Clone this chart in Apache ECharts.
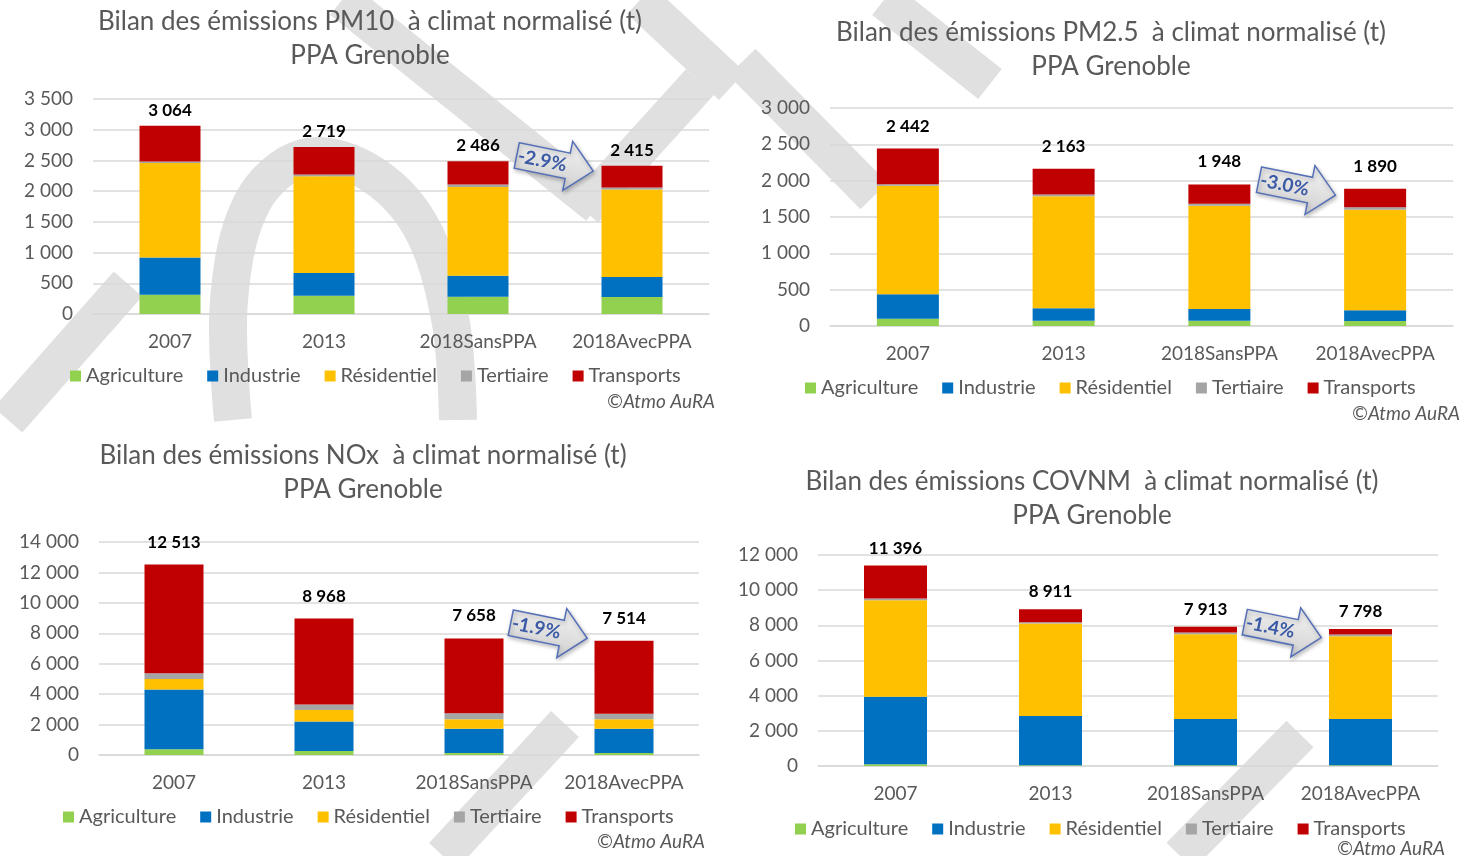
<!DOCTYPE html>
<html>
<head>
<meta charset="utf-8">
<script src="https://cdn.jsdelivr.net/npm/echarts@6/dist/echarts.min.js"></script>
<style>
  html, body { margin: 0; background: #fff; }
  #main { width: 1461px; height: 856px; }
</style>
</head>
<body>
<div id="main"></div>
<script>
const categories = ['2007', '2013', '2018SansPPA', '2018AvecPPA']
const sectors = ['Agriculture', 'Industrie', 'Résidentiel', 'Tertiaire', 'Transports']
const sectorColors = ['#92D050', '#0070C0', '#FFC000', '#A5A5A5', '#C00000']

// PM10 (t)
const pm10Agriculture = [314, 298, 282, 276]
const pm10Industrie = [606, 368, 341, 325]
const pm10Residentiel = [1539, 1576, 1446, 1424]
const pm10Tertiaire = [25, 30, 40, 33]
const pm10Transports = [580, 447, 377, 357]
const pm10Totals = [3064, 2719, 2486, 2415]

// PM2.5 (t)
const pm25Agriculture = [101, 73, 73, 69]
const pm25Industrie = [336, 170, 161, 147]
const pm25Residentiel = [1493, 1544, 1420, 1383]
const pm25Tertiaire = [22, 23, 27, 36]
const pm25Transports = [490, 353, 267, 255]
const pm25Totals = [2442, 2163, 1948, 1890]

// NOx (t)
const noxAgriculture = [373, 263, 131, 131]
const noxIndustrie = [3927, 1931, 1599, 1599]
const noxResidentiel = [703, 768, 615, 615]
const noxTertiaire = [373, 351, 395, 373]
const noxTransports = [7137, 5655, 4918, 4796]
const noxTotals = [12513, 8968, 7658, 7514]

// COVNM (t)
const covAgriculture = [95, 40, 40, 40]
const covIndustrie = [3842, 2799, 2629, 2629]
const covResidentiel = [5489, 5262, 4828, 4715]
const covTertiaire = [95, 76, 95, 94]
const covTransports = [1875, 734, 321, 320]
const covTotals = [11396, 8911, 7913, 7798]

const changes = ['-2.9%', '-3.0%', '-1.9%', '-1.4%']

const FONT = 'Lato, "Open Sans", sans-serif'
const GREY = '#595959'
const fmt = (v) => String(v).replace(/\B(?=(\d{3})+(?!\d))/g, ' ')

const panels = [
  {
    pollutant: 'PM10', series: [pm10Agriculture, pm10Industrie, pm10Residentiel, pm10Tertiaire, pm10Transports],
    totals: pm10Totals, max: 3500, interval: 500,
    grid: { left: 93, top: 99, width: 616, height: 215 }, barWidth: 61, labelDist: 7,
    titleX: 370, titleY: 22, legend: { left: 70, top: 366 }, credit: [715, 402], arrowDy: 2
  },
  {
    pollutant: 'PM2.5', series: [pm25Agriculture, pm25Industrie, pm25Residentiel, pm25Tertiaire, pm25Transports],
    totals: pm25Totals, max: 3000, interval: 500,
    grid: { left: 830, top: 108, width: 623, height: 218 }, barWidth: 62, labelDist: 14,
    titleX: 1111, titleY: 33, legend: { left: 805, top: 378 }, credit: [1460, 414], arrowDy: 3
  },
  {
    pollutant: 'NOx', series: [noxAgriculture, noxIndustrie, noxResidentiel, noxTertiaire, noxTransports],
    totals: noxTotals, max: 14000, interval: 2000,
    grid: { left: 99, top: 542, width: 600, height: 213 }, barWidth: 59, labelDist: 14,
    titleX: 363, titleY: 456, legend: { left: 63, top: 807 }, credit: [705, 842], arrowDy: -8
  },
  {
    pollutant: 'COVNM', series: [covAgriculture, covIndustrie, covResidentiel, covTertiaire, covTransports],
    totals: covTotals, max: 12000, interval: 2000,
    grid: { left: 818, top: 555, width: 620, height: 211 }, barWidth: 63, labelDist: 9,
    titleX: 1092, titleY: 482, legend: { left: 795, top: 819 }, credit: [1445, 849], arrowDy: 3
  }
]

// light grey "draft" watermark strokes behind the charts
const watermark = [
  { type: 'polyline', points: [[233, 420], [229, 300], [252, 203], [303, 158], [365, 170], [420, 225], [450, 318], [458, 420]] },
  { type: 'line', points: [[8, 420], [128, 284]] },
  { type: 'line', points: [[342, 0], [598, 206]] },
  { type: 'line', points: [[584, 210], [700, 82]] },
  { type: 'line', points: [[640, 0], [732, 86]] },
  { type: 'line', points: [[742, 62], [874, 196]] },
  { type: 'line', points: [[884, 0], [990, 84]] },
  { type: 'line', points: [[565, 724], [443, 856]] },
  { type: 'line', points: [[1300, 734], [1180, 856]] }
]

const chart = echarts.init(document.getElementById('main'))

const xAxes = panels.map((p, i) => ({
  type: 'category', gridIndex: i, data: categories,
  axisTick: { show: false },
  axisLine: { lineStyle: { color: '#d9d9d9', width: 1.5 } },
  axisLabel: { color: GREY, fontSize: 19, fontFamily: FONT, margin: 18, interval: 0 }
}))
const yAxes = panels.map((p, i) => ({
  type: 'value', gridIndex: i, min: 0, max: p.max, interval: p.interval,
  axisLine: { show: false }, axisTick: { show: false },
  splitLine: { lineStyle: { color: '#d9d9d9', width: 1.5 } },
  axisLabel: { color: GREY, fontSize: 19, fontFamily: FONT, margin: 20, formatter: fmt }
}))

const series = []
panels.forEach((p, i) => {
  sectors.forEach((name, k) => {
    const s = {
      type: 'bar', name, stack: 'pan' + i, xAxisIndex: i, yAxisIndex: i,
      data: p.series[k], barWidth: p.barWidth,
      itemStyle: { color: sectorColors[k] }
    }
    if (k === sectors.length - 1) {
      s.label = {
        show: true, position: 'top', distance: p.labelDist,
        color: '#000', fontWeight: 'bold', fontSize: 17, fontFamily: FONT,
        formatter: (d) => fmt(p.totals[d.dataIndex])
      }
    }
    series.push(s)
  })
})

const legends = panels.map((p) => ({
  left: p.legend.left, top: p.legend.top, data: sectors, padding: 0,
  icon: 'rect', itemWidth: 11, itemHeight: 11, itemGap: 24,
  textStyle: { color: GREY, fontSize: 20, fontFamily: FONT }
}))

chart.setOption({
  animation: false,
  color: sectorColors,
  grid: panels.map((p) => p.grid),
  xAxis: xAxes,
  yAxis: yAxes,
  legend: legends,
  series
})

// watermark, titles, credits and the "variation" arrows
const graphics = watermark.map((w) => ({
  type: w.type, z: -10, silent: true,
  shape: w.type === 'line'
    ? { x1: w.points[0][0], y1: w.points[0][1], x2: w.points[1][0], y2: w.points[1][1] }
    : { points: w.points, smooth: 0.35 },
  style: { stroke: '#e0e0e0', lineWidth: 38, fill: null }
}))

panels.forEach((p, i) => {
  const titleStyle = { fill: GREY, fontSize: 26, fontFamily: FONT, fontWeight: 'normal', align: 'center', verticalAlign: 'middle' }
  graphics.push({ type: 'text', x: p.titleX, y: p.titleY, style: { ...titleStyle, text: 'Bilan des émissions ' + p.pollutant + '  à climat normalisé (t)' } })
  graphics.push({ type: 'text', x: p.titleX, y: p.titleY + 34, style: { ...titleStyle, text: 'PPA Grenoble' } })
  graphics.push({
    type: 'text', x: p.credit[0], y: p.credit[1],
    style: { text: '©Atmo AuRA', fill: GREY, fontSize: 19, fontStyle: 'italic', fontFamily: FONT, align: 'right', verticalAlign: 'middle' }
  })

  const xa = chart.convertToPixel({ xAxisIndex: i }, categories[2])
  const xb = chart.convertToPixel({ xAxisIndex: i }, categories[3])
  const y = chart.convertToPixel({ yAxisIndex: i }, p.totals[2]) + p.arrowDy
  graphics.push({
    type: 'group', x: (xa + xb) / 2, y, rotation: -0.2, z: 10,
    children: [
      {
        type: 'polygon',
        shape: { points: [[-39, -13], [13, -13], [13, -25], [39, 0], [13, 25], [13, 13], [-39, 13]] },
        style: {
          fill: new echarts.graphic.LinearGradient(0, 0, 0, 1, [
            { offset: 0, color: '#f4f4f4' }, { offset: 1, color: '#cfcfcf' }
          ]),
          stroke: '#5570b8', lineWidth: 1.5,
          shadowBlur: 4, shadowColor: 'rgba(0,0,0,0.25)', shadowOffsetX: 1, shadowOffsetY: 2
        }
      },
      {
        type: 'text', x: -13, y: 0,
        style: { text: changes[i], fill: '#3a5aa6', fontSize: 19, fontWeight: 'bold', fontFamily: FONT, align: 'center', verticalAlign: 'middle' }
      }
    ]
  })
})
chart.setOption({ graphic: graphics })
</script>
</body>
</html>
